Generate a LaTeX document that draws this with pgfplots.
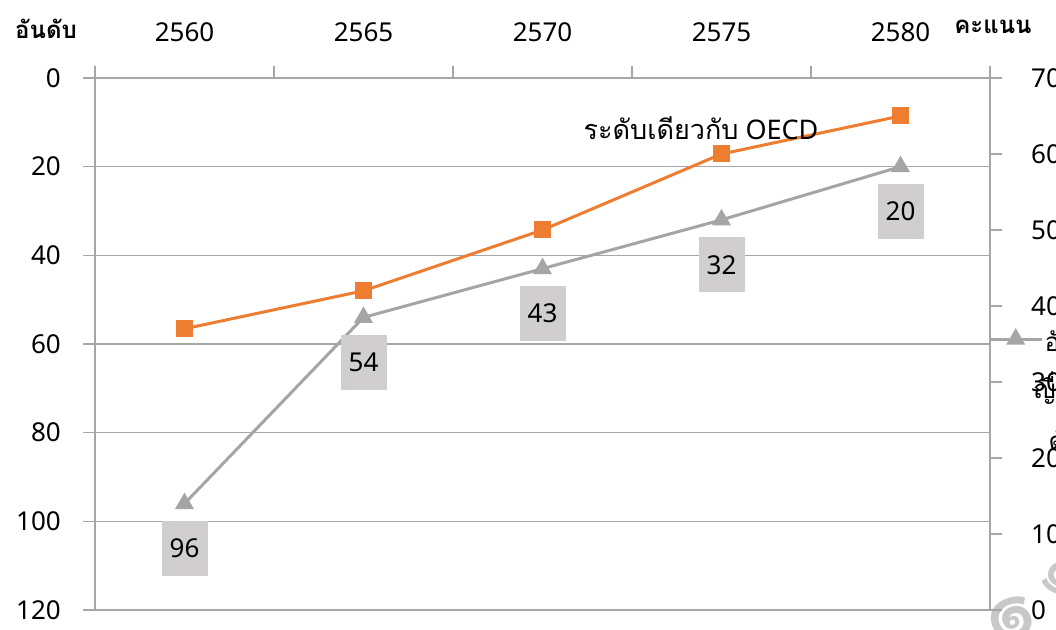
\documentclass[border=0pt]{standalone}
\usepackage{fontspec}
\setmainfont{Noto Sans}
\newfontfamily\thai[Script=Thai]{Loma}
\usepackage{pgfplots}
\pgfplotsset{compat=1.18}
\definecolor{xlorange}{RGB}{237,125,49}
\definecolor{xlgray}{RGB}{165,165,165}
\definecolor{boxgray}{RGB}{208,206,206}
\definecolor{axgray}{RGB}{166,166,166}
\definecolor{wmgray}{RGB}{200,200,200}
\begin{document}
\begin{tikzpicture}
\useasboundingbox (0,0) rectangle (1056pt,629pt);
\clip (0,0) rectangle (1056pt,629pt);
% watermark glyphs
\node[text=wmgray, font=\thai\fontsize{90}{90}\selectfont, rotate=200] at (1012pt,10pt) {๑};
\node[text=wmgray, font=\thai\fontsize{70}{70}\selectfont, rotate=-30] at (1062pt,50pt) {๑};
\begin{axis}[
  at={(95pt,19pt)}, anchor=south west, scale only axis,
  width=895pt, height=532pt,
  xmin=-0.5, xmax=4.5, ymin=0, ymax=120, y dir=reverse,
  axis x line*=top, axis y line*=left,
  axis line style={draw=axgray, line width=1.3pt, -},
  xtick={0,1,2,3,4}, xticklabels={2560,2565,2570,2575,2580},
  minor xtick={-0.5,0.5,1.5,2.5,3.5,4.5},
  major x tick style={draw=none},
  minor x tick style={draw=axgray, line width=1.3pt},
  major tick length=12pt, minor tick length=12pt,
  tick align=outside,
  ytick={0,20,...,120},
  y tick style={draw=axgray, line width=1.3pt},
  ymajorgrids, grid style={draw=axgray, line width=1.3pt},
  /pgf/number format/assume math mode=true,
  tick label style={font=\fontsize{26}{30}\selectfont, inner sep=0pt, text=black},
  xticklabel style={anchor=south, yshift=24pt},
  yticklabel style={anchor=east, xshift=-22pt},
  clip=false,
]
\addplot[color=xlgray, line width=3pt, mark=triangle*, mark size=8pt,
  mark options={solid, fill=xlgray},
  nodes near coords,
  every node near coord/.append style={anchor=north, yshift=-16pt, fill=boxgray, text=black,
     minimum width=46pt, minimum height=55pt, inner sep=0pt,
     font=\fontsize{26}{30}\selectfont}]
  coordinates {(0,96) (1,54) (2,43) (3,32) (4,20)};
\end{axis}
\begin{axis}[
  at={(95pt,19pt)}, anchor=south west, scale only axis,
  width=895pt, height=532pt,
  xmin=-0.5, xmax=4.5, ymin=0, ymax=70,
  axis x line=none, axis y line*=right,
  axis line style={draw=axgray, line width=1.3pt, -},
  ytick={0,10,...,70},
  major tick length=12pt, tick align=outside,
  y tick style={draw=axgray, line width=1.3pt},
  /pgf/number format/assume math mode=true,
  tick label style={font=\fontsize{26}{30}\selectfont, inner sep=0pt, text=black},
  yticklabel style={anchor=west, xshift=29pt},
  clip=false,
  legend style={at={(0.99777,0.513)}, anchor=west, draw=none, fill=none, inner sep=0pt,
     nodes={inner sep=0pt},
     font=\thai\fontsize{26}{30}\selectfont,
     /tikz/every even column/.style={column sep=0pt}},
  legend image code/.code={
     \draw[color=xlgray, line width=3pt] (0pt,0pt) -- (52pt,0pt);
     \draw[#1] plot coordinates {(26pt,0pt)};},
]
\addplot[forget plot, color=xlorange, line width=3pt, mark=square*, mark size=7pt, mark options={solid, fill=xlorange}]
  coordinates {(0,37) (1,42) (2,50) (3,60) (4,65)};
\addlegendimage{color=xlgray, line width=3pt, only marks, mark=triangle*, mark size=8pt, mark options={solid, fill=xlgray}}
\addlegendentry{}
\end{axis}
\node[font=\thai\fontsize{26}{30}\selectfont, anchor=west] at (1041pt,288pt) {อันดับ};
\node[font=\thai\fontsize{26}{30}\selectfont, anchor=west] at (1030pt,240pt) {ญี่ปุ่น};
\node[font=\thai\fontsize{26}{30}\selectfont, anchor=west] at (1045pt,189pt) {ดัชนี};
\node[font=\thai\bfseries\fontsize{24}{28}\selectfont] at (46pt,600pt) {อันดับ};
\node[font=\thai\bfseries\fontsize{24}{28}\selectfont] at (993pt,602pt) {คะแนน};
\node[font=\fontsize{27}{30}\selectfont] at (701pt,501pt) {{\thai ระดับเดียวกับ} OECD};
\end{tikzpicture}
\end{document}
